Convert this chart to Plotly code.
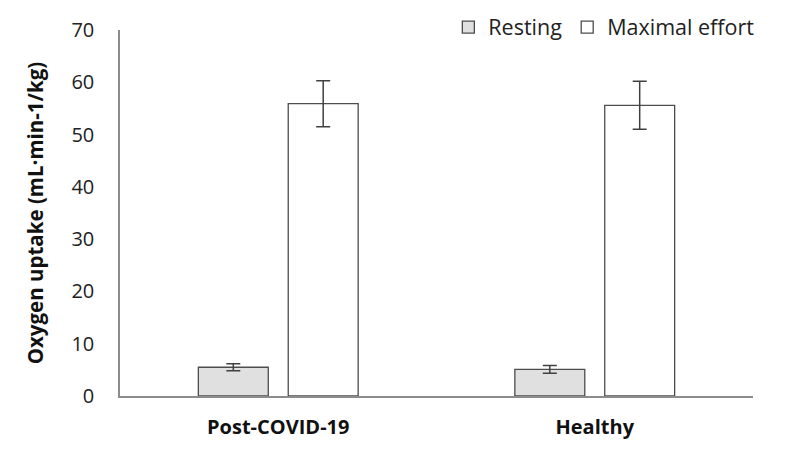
import plotly.graph_objects as go

categories = ["Post-COVID-19", "Healthy"]
resting = [5.5, 5.1]
resting_err = [0.65, 0.75]
maximal = [55.9, 55.6]
maximal_err = [4.4, 4.6]
y_ticks = [0, 10, 20, 30, 40, 50, 60, 70]

FONT = "Open Sans, sans-serif"

fig = go.Figure()
fig.add_trace(go.Bar(
    name="Resting", x=categories, y=resting,
    marker=dict(color="#e0e0e0", line=dict(color="#4d4d4d", width=1.3)),
    error_y=dict(type="data", array=resting_err, color="#404040", thickness=1.5, width=7),
))
fig.add_trace(go.Bar(
    name="Maximal effort", x=categories, y=maximal,
    marker=dict(color="#ffffff", line=dict(color="#4d4d4d", width=1.3)),
    error_y=dict(type="data", array=maximal_err, color="#404040", thickness=1.5, width=7),
))

fig.update_layout(
    width=779, height=448,
    margin=dict(l=112, r=34, t=22, b=60, autoexpand=False),
    paper_bgcolor="white", plot_bgcolor="white",
    barmode="group", bargap=0.432, bargroupgap=0.222,
    font=dict(family=FONT, color="#222222"),
    showlegend=True,
    legend=dict(orientation="h", x=1.01, xanchor="right", y=1.008, yanchor="middle",
                font=dict(size=21.5, color="#222222"), bgcolor="rgba(0,0,0,0)",
                traceorder="normal", itemwidth=30),
    xaxis=dict(showline=True, linecolor="#8c8c8c", linewidth=1.5, ticks="",
               tickfont=dict(size=20, family=FONT, color="#111111", weight="bold"),
               ticklabelstandoff=12, showgrid=False),
    yaxis=dict(range=[0, 70], tickvals=y_ticks, showline=True, linecolor="#8c8c8c",
               linewidth=1.5, ticks="", showgrid=False, zeroline=False,
               tickfont=dict(size=20, color="#222222"), ticklabelstandoff=20,
               title=dict(text="Oxygen uptake (mL·min-1/kg)", standoff=22,
                          font=dict(size=20.5, family=FONT, color="#111111", weight="bold"))),
)

fig.write_html("out.html")
